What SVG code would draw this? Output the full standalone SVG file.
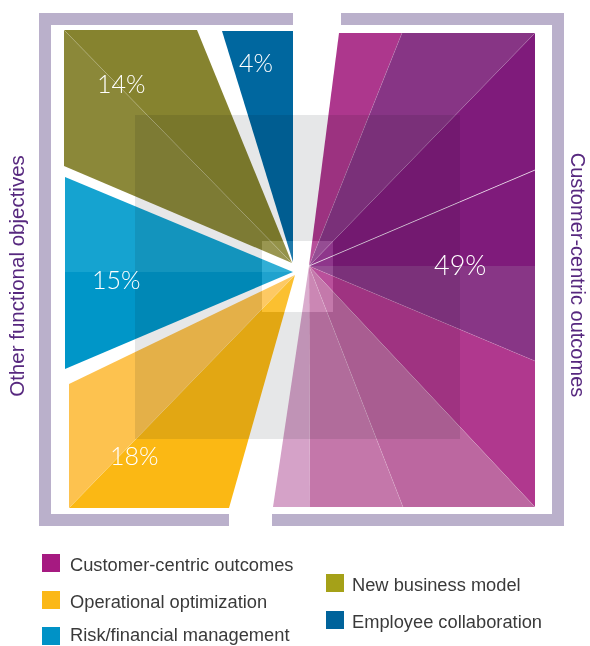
<svg xmlns="http://www.w3.org/2000/svg" width="590" height="646" viewBox="0 0 590 646">
<style>
.frame{fill:#bab0cb}
.pct{font-family:"Lato","Liberation Sans",sans-serif;font-weight:300;font-size:25px;fill:#ffffff}
.side{font-family:"Liberation Sans",Arial,sans-serif;font-size:20.5px;fill:#57287f}
.leg{font-family:"Liberation Sans",Arial,sans-serif;font-size:18.3px;fill:#3a3a3a}
.div{stroke:#ffffff;stroke-opacity:0.18;stroke-width:0.7;fill:none}
</style>
<rect width="590" height="646" fill="#ffffff"/>
<g id="frame">
<path class="frame" d="M39,13 H293 V25 H51 V514 H229 V526 H39 Z"/>
<path class="frame" d="M341,13 H564 V526 H272 V514 H552 V25 H341 Z"/>
</g>
<g id="wedge-new-business">
<polygon points="64,30 197,30 292,263" fill="#86832f"/>
<polygon points="64,30 292,263 64,166" fill="#8b8839"/>
<line class="div" x1="64" y1="30" x2="292" y2="263"/>
</g>
<g id="wedge-employee">
<polygon points="222,31 293,31 293,262" fill="#00679f"/>
</g>
<g id="wedge-risk">
<polygon points="65,177 293,272 65,272" fill="#15a3d0"/>
<polygon points="65,272 293,272 65,369" fill="#0096c8"/>
</g>
<g id="wedge-operational">
<polygon points="69,384 295,275 69,508" fill="#fdc24f"/>
<polygon points="69,508 295,275 229,508" fill="#fbb814"/>
<line class="div" x1="69" y1="508" x2="295" y2="275"/>
</g>
<g id="wedge-customer">
<polygon points="339,33 402,33 309,266" fill="#ad378d"/>
<polygon points="402,33 535,33 309,266" fill="#873585"/>
<polygon points="535,33 535,170 309,266" fill="#7f1b7b"/>
<polygon points="535,170 535,266 309,266" fill="#7f1b7b"/>
<polygon points="535,266 535,361 309,266" fill="#883686"/>
<polygon points="535,361 535,507 309,266" fill="#b0388e"/>
<polygon points="535,507 403,507 309,266" fill="#bc67a0"/>
<polygon points="403,507 310,507 309,266" fill="#c477aa"/>
<polygon points="310,507 273,507 309,266" fill="#d5a2c8"/>
<line class="div" x1="309" y1="266" x2="402" y2="33"/>
<line class="div" x1="309" y1="266" x2="535" y2="33"/>
<line class="div" x1="309" y1="266" x2="535" y2="361"/>
<line class="div" x1="309" y1="266" x2="535" y2="507"/>
<line class="div" x1="309" y1="266" x2="403" y2="507"/>
<line x1="309" y1="266" x2="535" y2="170" stroke="#ffffff" stroke-opacity="0.75" stroke-width="0.9"/>
</g>
<g id="overlay">
<path d="M135,115 H460 V439 H135 Z M262,241 H333 V312 H262 Z" fill="#e6e7e8" fill-rule="evenodd" style="mix-blend-mode:multiply"/>
<rect x="262" y="241" width="71" height="71" fill="#ffffff" fill-opacity="0.12"/>
</g>
<g id="labels">
<text class="pct" x="97" y="93">14%</text>
<text class="pct" x="239" y="72">4%</text>
<text class="pct" x="92" y="289">15%</text>
<text class="pct" x="110" y="465">18%</text>
<text class="pct" x="434" y="275" style="font-size:27px">49%</text>
<text class="side" transform="translate(24,276) rotate(-90)" text-anchor="middle">Other functional objectives</text>
<text class="side" transform="translate(571,275) rotate(90)" text-anchor="middle" style="font-size:20px">Customer-centric outcomes</text>
</g>
<g id="legend">
<rect x="42" y="554" width="18" height="18" fill="#a61a81"/>
<text class="leg" x="70" y="571">Customer-centric outcomes</text>
<rect x="42" y="591" width="18" height="18" fill="#fbb817"/>
<text class="leg" x="70" y="608">Operational optimization</text>
<rect x="42" y="627" width="18" height="18" fill="#0092c6"/>
<text class="leg" x="70" y="641">Risk/financial management</text>
<rect x="326" y="574" width="18" height="18" fill="#a5a118"/>
<text class="leg" x="352" y="591">New business model</text>
<rect x="326" y="611" width="18" height="18" fill="#00639b"/>
<text class="leg" x="352" y="628">Employee collaboration</text>
</g>
</svg>
